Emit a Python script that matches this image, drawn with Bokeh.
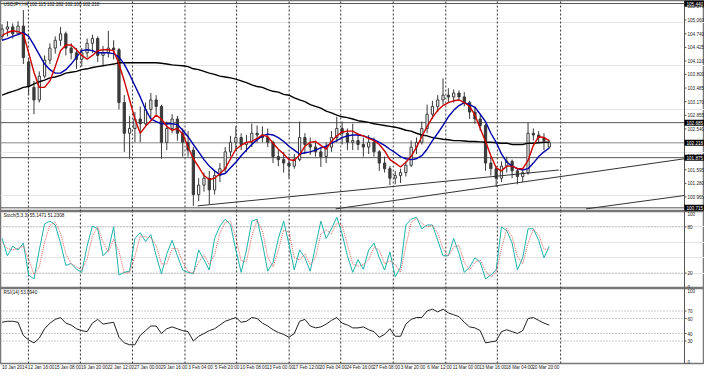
from bokeh.plotting import figure
from bokeh.layouts import column
from bokeh.models import Range1d, FixedTicker, Label, ColumnDataSource
from bokeh.core.properties import value
from bokeh.embed import file_html
from bokeh.resources import INLINE

# ---------------- data (each candle = 12h of USDJPY H4) ----------------
opens = [104.68, 104.85, 104.90, 104.74, 104.92, 104.09, 103.50, 103.21, 103.76, 104.13,
         104.41, 104.59, 104.74, 104.41, 104.30, 104.15, 104.30, 104.52, 104.63, 104.24,
         104.30, 104.41, 104.37, 103.15, 102.44, 102.55, 102.77, 102.66, 102.99, 103.21,
         103.06, 102.23, 102.55, 102.77, 102.44, 102.23, 102.05, 101.02, 101.24, 101.40,
         101.13, 101.46, 101.62, 102.01, 102.23, 102.34, 102.18, 102.23, 102.44, 102.40,
         102.34, 102.23, 101.90, 101.83, 101.75, 101.68, 101.83, 102.34, 102.18, 102.12,
         102.01, 101.90, 102.12, 102.34, 102.55, 102.44, 102.23, 102.27, 102.18, 102.12,
         102.23, 102.01, 101.75, 101.62, 101.40, 101.46, 101.53, 101.70, 102.12, 102.23,
         102.55, 102.88, 103.06, 103.21, 103.32, 103.28, 103.37, 103.28, 103.15, 102.93,
         102.77, 102.62, 101.75, 101.62, 101.40, 101.68, 101.79, 101.57, 101.44, 101.53,
         102.44, 102.40, 102.34, 102.12]
highs = [104.96, 105.03, 104.98, 105.03, 105.29, 104.15, 103.65, 103.87, 104.24, 104.52,
         104.68, 104.90, 104.79, 104.52, 104.41, 104.41, 104.63, 104.72, 104.68, 104.46,
         104.81, 104.59, 104.41, 103.32, 102.84, 102.93, 103.06, 103.15, 103.37, 103.32,
         103.10, 102.71, 102.88, 102.84, 102.55, 102.49, 102.12, 101.40, 101.53, 101.57,
         101.57, 101.75, 102.12, 102.38, 102.60, 102.44, 102.40, 102.66, 102.62, 102.60,
         102.55, 102.27, 102.05, 102.01, 101.90, 101.96, 102.71, 102.44, 102.34, 102.27,
         102.12, 102.23, 102.49, 102.82, 102.71, 102.55, 102.66, 102.44, 102.34, 102.40,
         102.34, 102.05, 101.90, 101.68, 101.57, 101.62, 101.79, 102.27, 102.34, 102.71,
         103.10, 103.19, 103.32, 103.71, 103.48, 103.45, 103.43, 103.39, 103.19, 103.06,
         102.88, 102.66, 101.90, 101.68, 101.79, 101.90, 101.83, 101.62, 101.57, 102.69,
         102.55, 102.49, 102.44, 102.28]
lows = [104.59, 104.68, 104.63, 104.72, 104.04, 103.32, 102.88, 103.15, 103.71, 104.04,
        104.28, 104.46, 104.24, 104.15, 103.93, 103.98, 104.19, 104.30, 104.09, 104.02,
        104.19, 104.15, 102.99, 102.01, 101.85, 102.23, 102.23, 102.62, 102.77, 102.88,
        101.85, 102.05, 102.44, 102.27, 101.90, 101.90, 100.76, 100.87, 101.09, 100.80,
        101.02, 101.31, 101.53, 101.90, 102.05, 102.05, 102.01, 102.12, 102.23, 102.23,
        102.12, 101.75, 101.68, 101.53, 101.40, 101.62, 101.79, 101.96, 101.94, 101.90,
        101.66, 101.75, 102.01, 102.23, 102.18, 102.05, 102.05, 102.05, 101.90, 101.96,
        101.90, 101.57, 101.53, 101.24, 101.26, 101.29, 101.44, 101.66, 101.96, 102.18,
        102.44, 102.77, 102.93, 103.10, 103.15, 103.15, 103.19, 103.06, 102.77, 102.66,
        102.49, 101.57, 101.46, 101.20, 101.31, 101.53, 101.40, 101.26, 101.31, 101.48,
        102.27, 102.23, 102.05, 102.10]
closes = [104.85, 104.90, 104.74, 104.92, 104.19, 103.54, 103.21, 103.76, 104.13, 104.41,
          104.59, 104.74, 104.41, 104.30, 104.15, 104.30, 104.52, 104.63, 104.24, 104.30,
          104.41, 104.37, 103.15, 102.44, 102.55, 102.77, 102.66, 102.99, 103.21, 103.06,
          102.23, 102.55, 102.77, 102.44, 102.23, 102.05, 101.02, 101.24, 101.40, 101.13,
          101.46, 101.62, 102.01, 102.23, 102.34, 102.18, 102.23, 102.44, 102.40, 102.34,
          102.23, 101.90, 101.83, 101.75, 101.68, 101.83, 102.34, 102.18, 102.12, 102.01,
          101.90, 102.12, 102.34, 102.55, 102.44, 102.23, 102.27, 102.18, 102.12, 102.23,
          102.01, 101.75, 101.62, 101.40, 101.46, 101.53, 101.70, 102.12, 102.23, 102.55,
          102.88, 103.06, 103.21, 103.32, 103.28, 103.37, 103.28, 103.15, 102.93, 102.77,
          102.62, 101.75, 101.62, 101.40, 101.68, 101.79, 101.57, 101.44, 101.53, 102.44,
          102.40, 102.34, 102.27, 102.22]

ma_fast = [104.70, 104.77, 104.81, 104.79, 104.74, 104.30, 103.85, 103.50, 103.50, 103.65,
           103.98, 104.35, 104.48, 104.48, 104.37, 104.24, 104.15, 104.24, 104.35, 104.37,
           104.37, 104.35, 104.04, 103.65, 103.21, 102.77, 102.44, 102.60, 102.73, 102.86,
           102.77, 102.60, 102.51, 102.55, 102.42, 102.12, 101.85, 101.66, 101.46, 101.37,
           101.40, 101.51, 101.62, 101.85, 102.07, 102.16, 102.23, 102.25, 102.32, 102.40,
           102.36, 102.21, 102.07, 101.96, 101.83, 101.81, 101.94, 102.14, 102.23, 102.25,
           102.16, 102.07, 102.25, 102.38, 102.47, 102.49, 102.49, 102.42, 102.38, 102.32,
           102.27, 102.18, 102.03, 101.83, 101.75, 101.66, 101.77, 101.90, 102.12, 102.36,
           102.60, 102.80, 102.97, 103.08, 103.15, 103.19, 103.21, 103.15, 103.06, 102.86,
           102.55, 102.25, 101.92, 101.64, 101.57, 101.68, 101.68, 101.62, 101.62, 101.81,
           102.16, 102.36, 102.34, 102.27]
ma_mid = [104.59, 104.63, 104.68, 104.72, 104.77, 104.68, 104.48, 104.26, 104.04, 103.91,
          103.83, 103.83, 103.91, 104.04, 104.20, 104.35, 104.37, 104.35, 104.30, 104.30,
          104.30, 104.28, 104.20, 104.04, 103.80, 103.54, 103.28, 102.99, 102.77, 102.71,
          102.66, 102.66, 102.66, 102.64, 102.51, 102.36, 102.18, 102.01, 101.83, 101.68,
          101.57, 101.48, 101.51, 101.64, 101.77, 101.92, 102.05, 102.18, 102.29, 102.38,
          102.42, 102.40, 102.34, 102.25, 102.14, 102.05, 101.96, 101.99, 102.01, 102.05,
          102.10, 102.14, 102.21, 102.27, 102.34, 102.38, 102.40, 102.40, 102.38, 102.34,
          102.29, 102.23, 102.16, 102.07, 101.99, 101.90, 101.85, 101.83, 101.85, 101.92,
          102.07, 102.27, 102.44, 102.62, 102.82, 102.97, 103.08, 103.15, 103.10, 103.04,
          102.88, 102.71, 102.44, 102.23, 101.96, 101.77, 101.68, 101.62, 101.59, 101.62,
          101.75, 101.90, 102.01, 102.10]
ma_slow = [103.32, 103.37, 103.41, 103.45, 103.50, 103.52, 103.58, 103.63, 103.67, 103.72,
           103.74, 103.78, 103.83, 103.85, 103.87, 103.91, 103.93, 103.96, 103.98, 104.00,
           104.02, 104.04, 104.07, 104.07, 104.07, 104.07, 104.07, 104.07, 104.07, 104.07,
           104.06, 104.04, 104.02, 104.01, 104.00, 103.98, 103.93, 103.91, 103.87, 103.83,
           103.80, 103.76, 103.74, 103.72, 103.69, 103.65, 103.61, 103.56, 103.52, 103.50,
           103.45, 103.41, 103.39, 103.34, 103.32, 103.26, 103.21, 103.17, 103.10, 103.06,
           103.02, 102.95, 102.91, 102.86, 102.82, 102.80, 102.77, 102.73, 102.71, 102.69,
           102.66, 102.64, 102.62, 102.60, 102.58, 102.55, 102.51, 102.49, 102.44, 102.40,
           102.38, 102.34, 102.32, 102.30, 102.29, 102.27, 102.27, 102.26, 102.25, 102.25,
           102.24, 102.23, 102.23, 102.22, 102.21, 102.21, 102.18, 102.18, 102.18, 102.21,
           102.21, 102.22, 102.23, 102.23]

stoch_main = [65, 42.5, 55, 50, 59, 17.5, 12.5, 50, 84, 87.5,
              82.5, 59, 30, 32.5, 25, 21, 55, 81, 77.5, 42.5,
              50, 80, 17.5, 21, 22.5, 65, 72.5, 61, 70, 42.5,
              19, 45, 62.5, 42.5, 24, 21, 19, 50, 37.5, 24,
              65, 81, 90, 82.5, 50, 21, 50, 87.5, 90, 59,
              22.5, 34, 65, 87.5, 57.5, 24, 50, 40, 22.5, 55,
              87.5, 65, 77.5, 92.5, 71, 42.5, 21, 37.5, 25, 50,
              59, 40, 24, 47.5, 15, 27.5, 82.5, 90, 92.5, 77.5,
              82.5, 82.5, 62.5, 42.5, 42.5, 65, 46, 21, 27.5, 40,
              34, 12.5, 17.5, 24, 80, 75, 59, 24, 40, 77.5,
              77.5, 62.5, 40, 55]
stoch_signal = [60, 52, 50, 52, 55, 38, 18, 28, 60, 82,
                86, 72, 45, 32, 28, 24, 38, 68, 80, 60,
                47, 64, 48, 20, 21, 42, 68, 67, 66, 56,
                32, 32, 52, 52, 34, 22, 20, 34, 44, 31,
                44, 72, 86, 87, 66, 36, 35, 68, 89, 75,
                41, 28, 50, 76, 73, 40, 37, 45, 31, 40,
                71, 76, 71, 85, 82, 57, 32, 29, 31, 37,
                54, 50, 32, 36, 31, 21, 55, 86, 91, 85,
                80, 82, 72, 52, 42, 54, 56, 34, 24, 34,
                37, 23, 15, 21, 52, 78, 67, 42, 32, 59,
                77, 70, 51, 51]
rsi = [55, 56.3, 56.3, 55, 37.5, 31.3, 27.5, 33.8, 46.3, 53.8,
       58.8, 61.3, 53.8, 51.3, 46.3, 43.8, 42.5, 53.8, 58.8, 52.5,
       53.8, 55, 35, 27.5, 25, 25, 37.5, 43.8, 50, 50,
       40, 46.3, 48.8, 46.3, 43.8, 42.5, 30, 36.3, 40, 43.8,
       46.3, 51.3, 56.3, 58.8, 61.3, 55, 56.3, 61.3, 60, 53.8,
       50, 45, 41.3, 38.8, 35, 40, 56.3, 58.8, 50, 47.5,
       48.8, 52.5, 57.5, 61.3, 53.8, 51.3, 47.5, 47.5, 48.8, 45,
       42.5, 35, 38.8, 46.3, 36.3, 36.3, 52.5, 58.8, 61.3, 61.3,
       70, 72.5, 68.8, 72.5, 67.5, 65, 62.5, 55, 48.8, 47.5,
       43.8, 27.5, 28.8, 30, 42.5, 45, 42.5, 40, 43.8, 60,
       61.3, 57.5, 53.8, 51.3]

level_prices = [105.44, 102.685, 101.875, 100.715]
level_texts = ["105.440", "102.685", "101.875", "100.715"]
bid_price = 102.218
bid_text = "102.218"

trend_x0 = [36.8, 62.8, 109.9]
trend_y0 = [100.76, 100.69, 100.69]
trend_x1 = [104.8, 128.45, 128.45]
trend_y1 = [101.59, 101.85, 101.00]

week_lines = [4.95, 14.74, 24.54, 34.43, 44.14, 54.03, 63.74, 73.63, 83.52, 93.22, 105.13]
time_pos = [0, 5, 10, 15, 20, 25, 30, 35, 40, 45, 50, 55, 60, 65, 70, 75, 80, 85, 90, 95, 100]
time_labels = ["10 Jan 2014", "12 Jan 16:00", "15 Jan 08:00", "19 Jan 20:00", "22 Jan 12:00",
               "27 Jan 00:00", "29 Jan 16:00", "3 Feb 04:00", "5 Feb 20:00", "10 Feb 08:00",
               "13 Feb 00:00", "17 Feb 12:00", "20 Feb 04:00", "24 Feb 16:00", "27 Feb 08:00",
               "3 Mar 20:00", "6 Mar 12:00", "11 Mar 00:00", "13 Mar 16:00", "18 Mar 04:00",
               "20 Mar 20:00"]
price_ticks = [105.376, 105.060, 104.740, 104.425, 104.110, 103.800, 103.485, 103.170,
               102.855, 102.540, 102.225, 101.910, 101.595, 101.280, 100.965]
stoch_ticks = [0, 20, 80, 100]
stoch_levels = [20, 80]
rsi_ticks = [0, 30, 40, 60, 70, 100]
rsi_levels = [30, 40, 60, 70]

main_title = "USDJPY,H4  102.115 102.282 102.100 102.218"
stoch_title = "Stoch(5,3,3) 55.1471 51.2308"
rsi_title = "RSI(14) 53.0940"

# ---------------- styling ----------------
FONT = "Liberation Sans"
FS = "4.6px"
W = 704
DATA_W = 684                      # pixels used by the price area; the rest is the price scale
X0, X1 = -0.3, 128.45             # x extent of the price area
U = (X1 - X0) / DATA_W            # data units per pixel
XF = X0 + W * U
xr = Range1d(X0, XF)
AX = "#555555"
LABEL_SHIFT = 12.5                # time labels start at their time (px)


def base_fig(height, yr, bottom=0):
    p = figure(width=W, height=height, x_range=xr, y_range=yr,
               x_axis_location="below" if bottom else None, y_axis_location=None,
               toolbar_location=None, output_backend="svg",
               min_border_left=0, min_border_right=0, min_border_top=0,
               min_border_bottom=bottom)
    p.outline_line_color = "#777777"
    p.outline_line_width = 1.5
    p.background_fill_color = "white"
    p.border_fill_color = "white"
    return p


def add_vgrid(p, y0, y1):
    p.segment(x0=week_lines, y0=[y0] * len(week_lines), x1=week_lines, y1=[y1] * len(week_lines),
              line_color="#333333", line_dash="2 2", line_width=1)


def add_scale(p, ticks, labels, y0, y1, aligns):
    # price scale drawn inside the figure, to the right of the price area
    p.segment(x0=[X1], y0=[y0], x1=[X1], y1=[y1], line_color=AX, line_width=1)
    p.segment(x0=[X1] * len(ticks), y0=ticks, x1=[X1 + 2 * U] * len(ticks), y1=ticks,
              line_color=AX, line_width=1)
    for base in set(aligns):
        idx = [i for i, a in enumerate(aligns) if a == base]
        p.text(x=[X1] * len(idx), y=[ticks[i] for i in idx], text=[labels[i] for i in idx],
               x_offset=3, text_baseline=base, text_align="left",
               text_font=value(FONT), text_font_size=value(FS), text_color="#222222")


def title_label(p, text, ytop):
    p.add_layout(Label(x=X0, y=ytop, text=text, x_offset=3, y_offset=-1,
                       text_baseline="top", text_font=FONT, text_font_size=FS,
                       text_color="#111111"))


# ---------------- main price panel ----------------
YM0, YM1 = 100.63, 105.51
main = base_fig(211, Range1d(YM0, YM1))
add_vgrid(main, YM0, YM1)

xs = list(range(len(closes)))
bull = [i for i in xs if closes[i] >= opens[i]]
bear = [i for i in xs if closes[i] < opens[i]]

for lv in level_prices:
    main.line(x=[X0, X1], y=[lv, lv], line_color="#555555", line_width=1)
main.line(x=[X0, X1], y=[bid_price, bid_price], line_color="#888888", line_width=1)

main.segment(x0=xs, y0=lows, x1=xs, y1=highs, line_color="#3a3a3a", line_width=1)
main.vbar(x=bull, width=0.42, top=[closes[i] for i in bull], bottom=[opens[i] for i in bull],
          fill_color="white", line_color="#3a3a3a", line_width=1)
main.vbar(x=bear, width=0.42, top=[opens[i] for i in bear], bottom=[closes[i] for i in bear],
          fill_color="#3a3a3a", line_color="#3a3a3a", line_width=1)

tsrc = ColumnDataSource(dict(x0=trend_x0, y0=trend_y0, x1=trend_x1, y1=trend_y1))
main.segment(x0="x0", y0="y0", x1="x1", y1="y1", source=tsrc, line_color="#333333", line_width=1)

main.line(xs, ma_slow, line_color="#000000", line_width=1.4)
main.line(xs, ma_mid, line_color="#0000aa", line_width=1.4)
main.line(xs, ma_fast, line_color="#cc0000", line_width=1.4)

add_scale(main, price_ticks, ["%.3f" % t for t in price_ticks], YM0, YM1,
          ["middle"] * len(price_ticks))

box_prices = level_prices + [bid_price]
box_texts = level_texts + [bid_text]
main.rect(x=[X1 + 10 * U] * len(box_prices), y=box_prices, width=20, height=6,
          width_units="screen", height_units="screen", fill_color="#000000", line_color=None)
main.text(x=[X1] * len(box_prices), y=box_prices, text=box_texts, x_offset=2,
          text_baseline="middle", text_align="left", text_font=value(FONT),
          text_font_size=value(FS), text_color="white")

title_label(main, main_title, YM1)

# ---------------- stochastic panel ----------------
stoch = base_fig(77, Range1d(0, 100))
add_vgrid(stoch, 0, 100)
for lv in stoch_levels:
    stoch.line(x=[X0, X1], y=[lv, lv], line_color="#999999", line_dash="1 2", line_width=1)
stoch.line(xs, stoch_main, line_color="#20B2AA", line_width=1)
stoch.line(xs, stoch_signal, line_color="#e06060", line_dash="1 1", line_width=1)
add_scale(stoch, stoch_ticks, [str(t) for t in stoch_ticks], 0, 100,
          ["bottom", "middle", "middle", "top"])
title_label(stoch, stoch_title, 100)

# ---------------- RSI panel ----------------
rsip = base_fig(84, Range1d(0, 100), bottom=9)
add_vgrid(rsip, 0, 100)
for lv in rsi_levels:
    rsip.line(x=[X0, X1], y=[lv, lv], line_color="#999999", line_dash="1 2", line_width=1)
rsip.line(xs, rsi, line_color="#222222", line_width=1)
add_scale(rsip, rsi_ticks, [str(t) for t in rsi_ticks], 0, 100,
          ["bottom", "middle", "middle", "middle", "middle", "top"])
title_label(rsip, rsi_title, 100)

rsip.xgrid.visible = False
rsip.ygrid.visible = False
stoch.xgrid.visible = False
main.xgrid.visible = False

# time labels: centred tick labels shifted so each text starts at its time
label_ticks = [t + LABEL_SHIFT * U for t in time_pos]
xa = rsip.xaxis[0]
xa.ticker = FixedTicker(ticks=label_ticks)
xa.major_label_overrides = {t: s for t, s in zip(label_ticks, time_labels)}
xa.major_label_text_font = FONT
xa.major_label_text_font_size = FS
xa.major_label_text_color = "#222222"
xa.major_label_standoff = 1
xa.major_tick_out = 0
xa.major_tick_in = 0
xa.minor_tick_line_color = None
xa.axis_line_color = None
xa.major_tick_line_color = None

layout = column(main, stoch, rsip, spacing=0)
open("out.html", "w").write(file_html(layout, INLINE))
